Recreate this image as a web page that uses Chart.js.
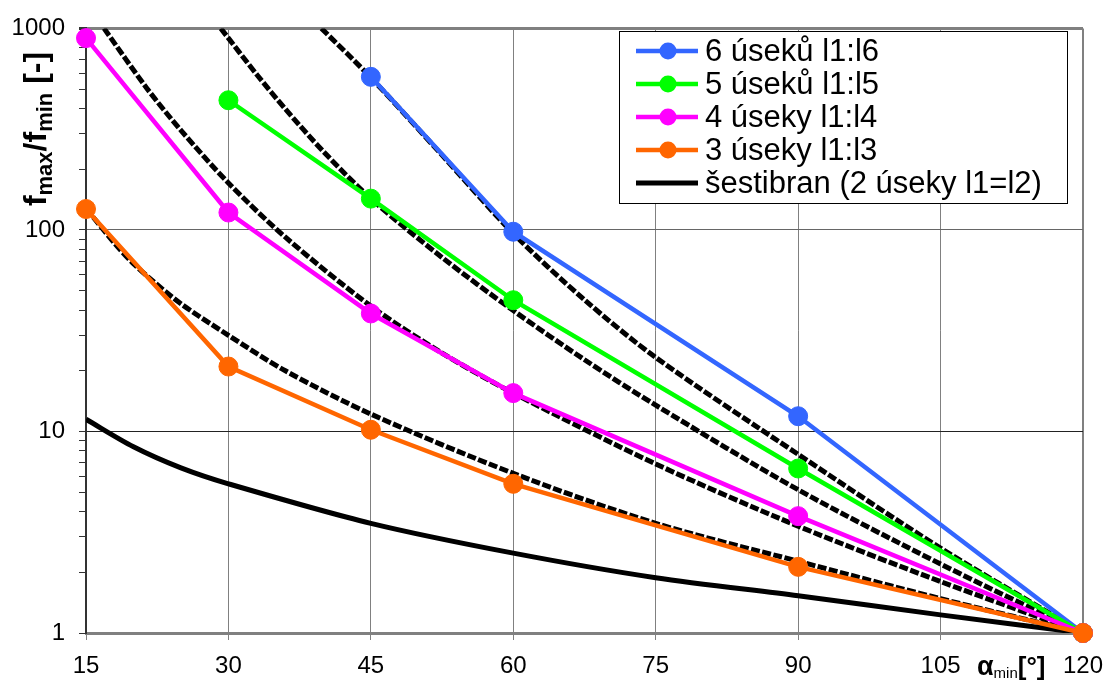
<!DOCTYPE html>
<html><head><meta charset="utf-8">
<script src="https://cdn.jsdelivr.net/npm/chart.js@4.4.0/dist/chart.umd.min.js"></script>
<style>html,body{margin:0;padding:0;background:#fff;overflow:hidden}</style>
</head><body>
<canvas id="c" width="1116" height="689"></canvas>
<script>
// ---------- data ----------
const xTickValues = [15, 30, 45, 60, 75, 90, 105, 120];
const yMajorTicks = [1, 10, 100, 1000];
const seriesLabels = ['6 úseků l1:l6', '5 úseků l1:l5', '4 úseky l1:l4', '3 úseky l1:l3', 'šestibran (2 úseky l1=l2)'];

const alpha6 = [45, 60, 90, 120];
const ratio6 = [575, 98, 11.9, 1];
const alpha5 = [30, 45, 60, 90, 120];
const ratio5 = [440, 143, 44.8, 6.55, 1];
const alpha4 = [15, 30, 45, 60, 90, 120];
const ratio4 = [895, 122, 38.5, 15.5, 3.8, 1];
const alpha3 = [15, 30, 45, 60, 90, 120];
const ratio3 = [127, 21, 10.2, 5.5, 2.13, 1];
const alphaHex = [15, 20, 25, 30, 45, 60, 75, 90, 105, 120];
const ratioHex = [11.5, 8.4, 6.6, 5.5, 3.5, 2.49, 1.88, 1.53, 1.23, 1];

// theoretical (dashed) curves
const alphaT6 = [39.8, 45, 52.5, 60, 67.5, 75, 90, 105, 120];
const ratioT6 = [1000, 570, 235, 96, 45, 23.3, 7.7, 2.64, 1];
const alphaT5 = [29.2, 33, 36, 40, 45, 52.5, 60, 67.5, 75, 90, 105, 120];
const ratioT5 = [1000, 589, 398, 245, 143, 73, 39.8, 22.7, 13.5, 5.14, 2.2, 1];
const alphaT4 = [16.9, 21.4, 25, 30, 36, 45, 52.5, 60, 75, 90, 105, 120];
const ratioT4 = [1000, 505, 312, 171, 92, 41.9, 24.5, 15.5, 6.9, 3.39, 1.8, 1];
const alphaT3 = [15, 18, 20, 22, 25, 30, 36, 45, 60, 75, 90, 105, 120];
const ratioT3 = [128, 86, 68, 56, 43, 30, 20, 12.2, 6.2, 3.5, 2.27, 1.48, 1];

const colors = ['#3366FF', '#00FF00', '#FF00FF', '#FF6600', '#000000'];
const FONT = "'Liberation Sans', Arial, sans-serif";

function pts(xs, ys) { return xs.map((x, i) => ({ x: x, y: ys[i] })); }

function markerSeries(label, xs, ys, color, order) {
  return {
    label: label, data: pts(xs, ys), borderColor: color, backgroundColor: color,
    borderWidth: 4.5, pointRadius: 9.5, pointBorderWidth: 1, pointBackgroundColor: color,
    pointBorderColor: color, tension: 0, order: order, clip: false, showMarker: true
  };
}
function theorySeries(xs, ys) {
  return {
    label: '', data: pts(xs, ys), borderColor: '#000', borderWidth: 5, borderDash: [9, 2.5],
    borderCapStyle: 'butt', pointRadius: 0, tension: 0.3, order: 10
  };
}

const datasets = [
  markerSeries(seriesLabels[0], alpha6, ratio6, colors[0], 3),
  markerSeries(seriesLabels[1], alpha5, ratio5, colors[1], 2),
  markerSeries(seriesLabels[2], alpha4, ratio4, colors[2], 1),
  markerSeries(seriesLabels[3], alpha3, ratio3, colors[3], 0),
  { label: seriesLabels[4], data: pts(alphaHex, ratioHex), borderColor: '#000', borderWidth: 5,
    pointRadius: 0, tension: 0.3, order: 9, showMarker: false },
  theorySeries(alphaT6, ratioT6),
  theorySeries(alphaT5, ratioT5),
  theorySeries(alphaT4, ratioT4),
  theorySeries(alphaT3, ratioT3)
];

// all log ticks (minor tick marks) between the major decades
const yAllTicks = [];
for (let d = 0; d < yMajorTicks.length - 1; d++) {
  for (let m = 1; m < 10; m++) yAllTicks.push(m * yMajorTicks[d]);
}
yAllTicks.push(yMajorTicks[yMajorTicks.length - 1]);

function drawRich(ctx, parts, x, y) {
  let cx = x;
  parts.forEach(p => {
    ctx.font = p.font;
    ctx.fillText(p.t, cx, y + (p.dy || 0));
    cx += ctx.measureText(p.t).width;
  });
}
function richWidth(ctx, parts) {
  let w = 0;
  parts.forEach(p => { ctx.font = p.font; w += ctx.measureText(p.t).width; });
  return w;
}

const decorPlugin = {
  id: 'decor',
  afterDraw(chart) {
    const ctx = chart.ctx;
    ctx.save();
    ctx.fillStyle = '#000';
    ctx.textBaseline = 'alphabetic';
    ctx.textAlign = 'left';
    // y axis title
    const yParts = [
      { t: 'f', font: 'bold 32px ' + FONT },
      { t: 'max', font: 'bold 22px ' + FONT, dy: 6 },
      { t: '/f', font: 'bold 32px ' + FONT },
      { t: 'min', font: 'bold 22px ' + FONT, dy: 6 },
      { t: ' [-]', font: 'bold 32px ' + FONT }
    ];
    ctx.save();
    ctx.translate(46, 129);
    ctx.rotate(-Math.PI / 2);
    const w = richWidth(ctx, yParts);
    drawRich(ctx, yParts, -w / 2, 0);
    ctx.restore();
    // x axis title
    const xParts = [
      { t: 'α', font: 'bold 27px ' + FONT },
      { t: 'min', font: '15px ' + FONT, dy: 3 },
      { t: '[°]', font: 'bold 26px ' + FONT }
    ];
    drawRich(ctx, xParts, 977, 675);

    // legend
    const lx = 619, ly = 31, lw = 448, lh = 172;
    ctx.fillStyle = '#fff';
    ctx.fillRect(lx, ly, lw, lh);
    ctx.strokeStyle = '#000';
    ctx.lineWidth = 1;
    ctx.strokeRect(lx + 0.5, ly + 0.5, lw, lh);
    ctx.font = '31px ' + FONT;
    ctx.textBaseline = 'middle';
    const legendSets = chart.data.datasets.filter(d => d.label);
    legendSets.forEach((d, i) => {
      const yy = 51 + i * 33;
      ctx.strokeStyle = d.borderColor;
      ctx.lineWidth = d.showMarker ? 4.5 : 5;
      ctx.setLineDash([]);
      ctx.beginPath();
      ctx.moveTo(636, yy);
      ctx.lineTo(698, yy);
      ctx.stroke();
      if (d.showMarker) {
        ctx.fillStyle = d.borderColor;
        ctx.beginPath();
        ctx.arc(668, yy, 8.5, 0, Math.PI * 2);
        ctx.fill();
      }
      ctx.fillStyle = '#000';
      ctx.fillText(d.label, 705, yy + 1);
    });
    ctx.restore();
  }
};

new Chart(document.getElementById('c'), {
  type: 'line',
  data: { datasets: datasets },
  plugins: [decorPlugin],
  options: {
    responsive: false,
    animation: false,
    devicePixelRatio: 1,
    layout: { padding: { left: 0, right: 33, top: 19, bottom: 0 } },
    plugins: { legend: { display: false }, tooltip: { enabled: false } },
    elements: { line: { fill: false } },
    scales: {
      x: {
        type: 'linear', min: 15, max: 120,
        afterBuildTicks: s => { s.ticks = xTickValues.map(v => ({ value: v })); },
        afterFit: s => { s.height = 56; },
        ticks: { autoSkip: false, maxRotation: 0, color: '#000', font: { family: FONT, size: 24 }, padding: 12,
                 callback: v => String(v) },
        grid: { color: '#808080', lineWidth: c => (c.tick && c.tick.value === 120 ? 2 : 1),
                tickLength: 7, tickColor: '#808080' },
        border: { display: true, color: '#808080', width: 3 }
      },
      y: {
        type: 'logarithmic', min: 1, max: 1000,
        afterBuildTicks: s => { s.ticks = yAllTicks.map(v => ({ value: v })); },
        afterFit: s => { s.width = 86; },
        ticks: { autoSkip: false, color: '#000', font: { family: FONT, size: 24 }, padding: 14,
                 callback: v => (yMajorTicks.includes(v) ? String(v) : '') },
        grid: {
          color: c => {
            const v = c.tick && c.tick.value;
            if (v === 1000) return '#808080';
            if (v === 10) return '#222';
            if (v === 100) return '#666';
            return 'rgba(0,0,0,0)';
          },
          lineWidth: c => (c.tick && c.tick.value === 1000 ? 3 : 1),
          tickLength: 7, tickColor: '#333'
        },
        border: { display: true, color: '#333', width: 2 }
      }
    }
  }
});
</script>
</body></html>
